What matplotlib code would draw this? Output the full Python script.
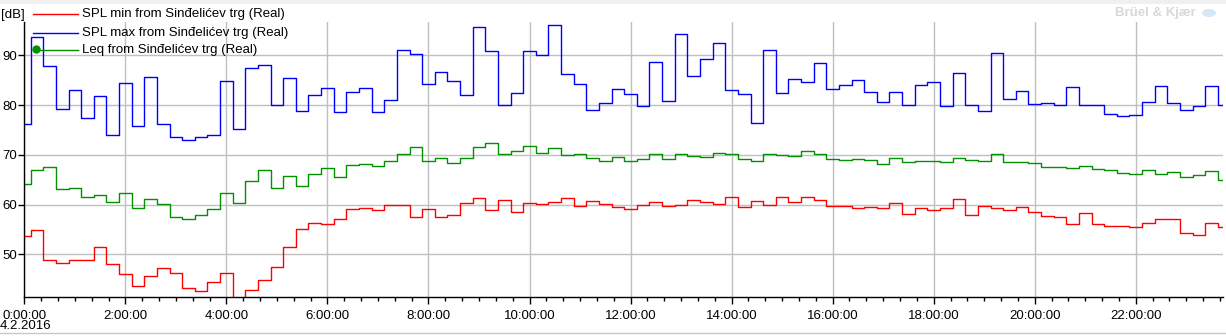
import numpy as np
import pandas as pd
import matplotlib
matplotlib.use("Agg")
import matplotlib.pyplot as plt
import matplotlib.dates as mdates
from matplotlib.lines import Line2D
from matplotlib.patches import Rectangle, Ellipse

# 15 minute samples over one day, 14.2.2016
times = pd.date_range("2016-02-14 00:00", periods=96, freq="15min")

spl_min = [53.8, 55.0, 48.8, 48.2, 48.8, 48.8, 51.6, 48.0, 46.0, 43.6, 45.6, 47.2,
           46.2, 43.2, 42.6, 44.4, 46.2, 40.0, 42.8, 44.8, 47.4, 51.6, 55.2, 56.4,
           56.2, 57.2, 59.2, 59.4, 59.0, 60.0, 60.0, 57.6, 59.2, 57.6, 58.0, 60.4,
           61.4, 59.0, 61.0, 58.6, 60.4, 60.2, 60.6, 61.4, 59.8, 60.8, 60.2, 59.6,
           59.2, 60.0, 60.6, 59.8, 60.0, 61.0, 60.6, 60.2, 61.6, 59.6, 60.8, 60.0,
           61.6, 60.6, 61.6, 61.0, 59.8, 59.8, 59.4, 59.6, 59.4, 60.4, 58.2, 59.4,
           59.0, 59.4, 61.2, 58.0, 59.8, 59.4, 59.0, 59.6, 58.6, 57.8, 57.6, 56.2,
           58.4, 56.2, 55.8, 55.8, 55.6, 56.4, 57.2, 57.2, 54.4, 54.0, 56.4, 55.6]

spl_max = [76.2, 93.6, 87.9, 79.2, 83.0, 77.4, 81.9, 74.0, 84.4, 75.8, 85.7, 76.2,
           73.6, 73.0, 73.6, 74.0, 84.8, 75.2, 87.4, 88.0, 80.0, 85.4, 78.8, 82.0,
           83.4, 78.6, 82.6, 83.4, 78.6, 81.1, 91.0, 90.3, 84.2, 86.6, 84.9, 82.0,
           95.6, 90.8, 80.0, 82.4, 90.8, 90.0, 96.1, 86.2, 84.2, 79.0, 80.4, 83.2,
           82.2, 79.8, 88.6, 80.8, 94.2, 85.8, 89.2, 92.4, 83.0, 82.2, 76.4, 91.0,
           82.4, 85.2, 84.6, 88.4, 83.2, 84.0, 85.0, 82.6, 80.6, 82.6, 80.0, 84.0,
           84.6, 79.8, 86.4, 80.0, 78.8, 90.4, 81.2, 82.8, 80.2, 80.4, 80.0, 83.6,
           80.0, 80.0, 78.2, 77.8, 78.0, 80.6, 83.8, 80.4, 79.0, 79.8, 83.8, 80.0]

leq = [64.2, 67.0, 67.6, 63.2, 63.4, 61.6, 61.9, 60.6, 62.4, 59.4, 61.2, 60.1,
       57.6, 57.2, 57.9, 59.2, 62.4, 60.4, 64.8, 67.0, 63.4, 65.8, 63.8, 66.2,
       67.4, 65.6, 68.0, 68.2, 67.8, 68.8, 70.2, 71.6, 68.8, 69.4, 68.4, 69.4,
       71.6, 72.4, 70.2, 70.8, 71.8, 70.4, 71.4, 70.0, 70.2, 69.4, 68.8, 69.6,
       68.8, 69.2, 70.2, 69.2, 70.2, 69.8, 69.6, 70.4, 70.2, 69.2, 68.8, 70.2,
       70.0, 69.8, 70.8, 70.2, 69.2, 69.0, 69.2, 69.0, 68.2, 69.4, 68.6, 68.7,
       68.8, 68.6, 69.4, 69.0, 68.8, 70.2, 68.6, 68.6, 68.4, 67.6, 67.6, 67.4,
       67.8, 67.2, 67.0, 66.4, 66.2, 67.0, 66.2, 66.6, 65.6, 66.0, 66.8, 65.0]

labels = ["SPL min from Sinđelićev trg (Real)",
          "SPL max from Sinđelićev trg (Real)",
          "Leq from Sinđelićev trg (Real)"]
colors = ["#ff0000", "#0000ff", "#009000"]

plt.rcParams["font.family"] = ["Liberation Sans", "DejaVu Sans"]
plt.rcParams["font.size"] = 9.5

W, H = 1226, 336
fig = plt.figure(figsize=(W / 100, H / 100), dpi=100)
ax = fig.add_axes([24.3 / W, 1 - 297.3 / H, (1223 - 24.3) / W, (297.3 - 22) / H])

for vals, c in zip([spl_min, spl_max, leq], colors):
    ax.plot(times, vals, drawstyle="steps-mid", color=c, lw=1.0)

ax.set_ylim(41.4, 96.7)
ax.set_xlim(times[0], times[0] + pd.Timedelta(hours=23, minutes=43, seconds=37))
ax.set_yticks([50, 60, 70, 80, 90])

ax.xaxis.set_major_locator(mdates.HourLocator(byhour=range(0, 24, 2)))
ax.xaxis.set_minor_locator(mdates.MinuteLocator(byminute=[0, 20, 40]))
ax.xaxis.set_major_formatter(
    plt.FuncFormatter(lambda v, p: "%d:%02d:00" % (mdates.num2date(v).hour, mdates.num2date(v).minute)))

ax.grid(True, which="major", color="#c0c0c0", lw=1.0)
ax.set_axisbelow(True)
for s in ["top", "right"]:
    ax.spines[s].set_visible(False)
ax.spines["left"].set_linewidth(1.0)
ax.spines["bottom"].set_linewidth(1.0)
ax.tick_params(axis="y", length=4, width=1, pad=1, labelsize=9.5)
ax.tick_params(axis="x", which="major", length=5, width=1, pad=4, labelsize=9.5)
ax.tick_params(axis="x", which="minor", length=3, width=1)

# unit and date labels
fig.text(1 / W, 1 - 15 / H, "[dB]", ha="left", va="center", fontsize=9.5)
fig.text(0 / W, 1 - 326 / H, "4.2.2016", ha="left", va="center", fontsize=9.5)

# legend drawn in figure pixels
ys = [14, 33, 50]
for lab, c, y in zip(labels, colors, ys):
    fig.add_artist(Line2D([33 / W, 78 / W], [1 - y / H, 1 - y / H], color=c, lw=1.0))
    fig.text(82 / W, 1 - y / H, lab, ha="left", va="center", fontsize=9.5)
fig.add_artist(Line2D([35.7 / W], [1 - 49 / H], color=colors[2], marker="o", markersize=5))

# frame decoration
fig.add_artist(Rectangle((0, 1 - 4 / H), 1, 4 / H, color="#f0f0f0", lw=0))
fig.add_artist(Line2D([0, 1], [1 - 333 / H, 1 - 333 / H], color="#c8c8c8", lw=1.0))
fig.text(1196 / W, 1 - 13 / H, "Brüel & Kjær", ha="right", va="center",
         fontsize=9.5, fontweight="bold", color="#d8d8d8")
fig.add_artist(Ellipse((1209 / W, 1 - 13 / H), 14 / W, 8 / H, color="#d4e6f8", lw=0))

fig.savefig("out.png", dpi=100)
